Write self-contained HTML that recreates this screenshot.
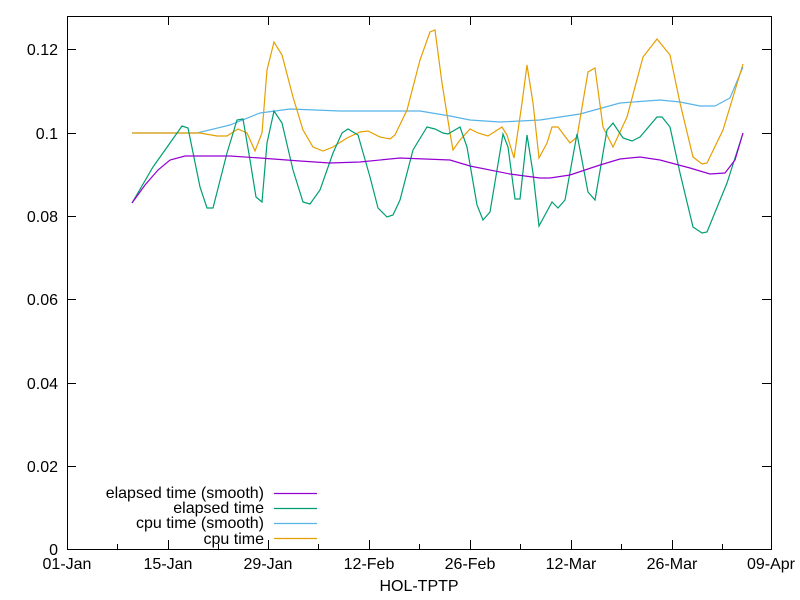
<!DOCTYPE html><html><head><style>body{margin:0;background:#fff}svg{display:block;font-family:"Liberation Sans",sans-serif;font-size:16px}</style></head><body>
<svg width="800" height="600" viewBox="0 0 800 600">
<rect x="67.5" y="16.5" width="704" height="533" fill="none" stroke="#000"/>
<g stroke="#000">
<path d="M67 549.5h9M771 549.5h-9M67 466.5h9M771 466.5h-9M67 383.5h9M771 383.5h-9M67 299.5h9M771 299.5h-9M67 216.5h9M771 216.5h-9M67 133.5h9M771 133.5h-9M67 49.5h9M771 49.5h-9"/>
<path d="M67.5 549v-9M67.5 16v9M168.5 549v-9M168.5 16v9M268.5 549v-9M268.5 16v9M369.5 549v-9M369.5 16v9M470.5 549v-9M470.5 16v9M571.5 549v-9M571.5 16v9M672.5 549v-9M672.5 16v9M771.5 549v-9M771.5 16v9"/>
<path d="M117.5 549v-5M218.5 549v-5M318.5 549v-5M419.5 549v-5M520.5 549v-5M621.5 549v-5M722.5 549v-5"/>
</g>
<g text-anchor="end">
<text x="58" y="555">0</text><text x="58" y="472">0.02</text><text x="58" y="389">0.04</text><text x="58" y="305">0.06</text><text x="58" y="222">0.08</text><text x="58" y="139">0.1</text><text x="58" y="55">0.12</text>
</g>
<g text-anchor="middle">
<text x="67" y="569">01-Jan</text><text x="168" y="569">15-Jan</text><text x="268" y="569">29-Jan</text><text x="369" y="569">12-Feb</text><text x="470" y="569">26-Feb</text><text x="571" y="569">12-Mar</text><text x="672" y="569">26-Mar</text><text x="771" y="569">09-Apr</text>
<text x="419" y="591">HOL-TPTP</text>
</g>
<g fill="none" stroke-width="1.2">
<polyline stroke="#56b4e9" points="132,133 197,133 230,125 260,113 290,109 340,111 420,111 450,116 470,120 500,122 540,120 580,114 620,103 660,100 680,102 700,106 715,106 730,98 743,67"/>
<polyline stroke="#e69f00" points="132,133 200,133 217,136 227,136 238,129 247,133 255,151 262,133 267,70 274,42 282,55 293,97 303,130 313,147 323,151 333,147 347,138 360,132 368,131 380,137 390,139 395,135 407,110 420,60 430,32 435,30 442,83 450,133 453,150 460,140 470,129 478,133 488,136 502,127 507,135 514,158 522,103 527,65 533,103 539,158 547,143 552,127 558,127 570,143 577,137 588,72 595,68 603,127 613,147 627,117 643,57 657,39 670,55 680,103 693,157 702,164 707,163 723,130 743,64"/>
<polyline stroke="#009e73" points="132,203 153,167 170,143 182,126 188,128 200,187 207,208 213,208 227,153 237,120 243,119 250,160 256,197 262,202 267,143 274,111 282,123 293,170 303,202 310,204 320,190 333,153 342,133 348,129 358,135 370,177 378,208 387,217 393,215 400,200 413,150 427,127 435,129 443,133 448,134 460,127 467,147 477,205 483,220 490,212 503,134 508,147 515,199 520,199 527,135 533,173 539,226 552,202 558,208 565,200 577,134 588,192 595,200 607,130 613,123 623,138 632,141 640,137 657,117 662,117 670,127 680,173 693,227 702,233 707,232 727,183 743,133"/>
<polyline stroke="#9400d3" points="132,203 145,185 158,170 170,160 185,156 230,156 260,158 300,161 330,163 360,162 400,158 450,160 470,166 510,174 540,178 550,178 570,175 600,165 620,159 640,157 660,160 690,168 710,174 725,173 735,160 743,133"/>
</g>
<g text-anchor="end">
<text x="264" y="498">elapsed time (smooth)</text><text x="264" y="513">elapsed time</text><text x="264" y="528">cpu time (smooth)</text><text x="264" y="544">cpu time</text>
</g>
<g stroke-width="1.2">
<path d="M274 493.5h43" stroke="#9400d3"/><path d="M274 508.5h43" stroke="#009e73"/><path d="M274 523.5h43" stroke="#56b4e9"/><path d="M274 538.5h43" stroke="#e69f00"/>
</g>
</svg></body></html>
